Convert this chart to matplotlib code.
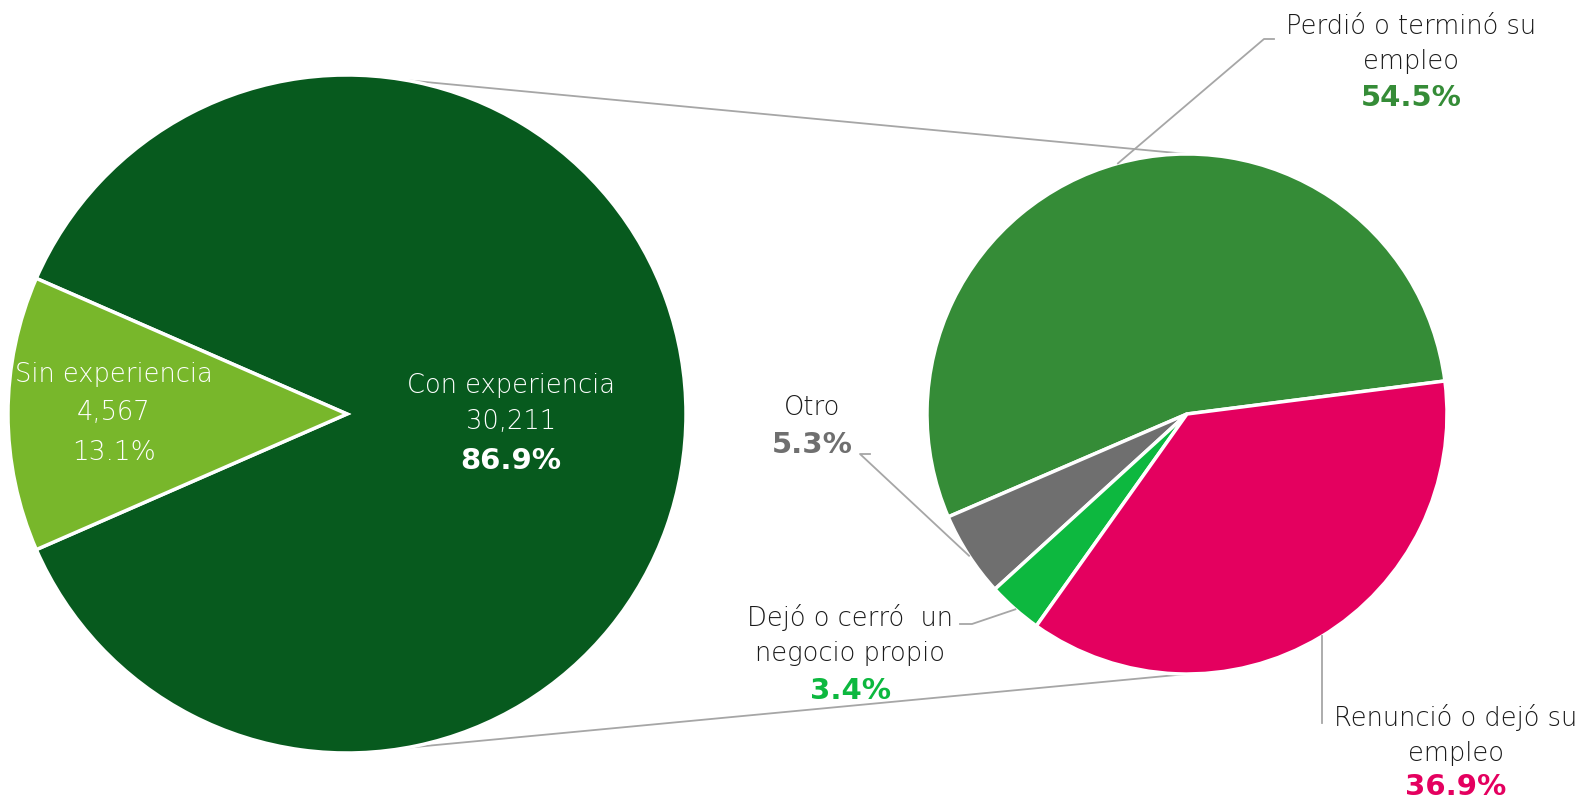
import numpy as np
import matplotlib.pyplot as plt

# datos
main_labels = ['Con experiencia', 'Sin experiencia']
main_counts = [30211, 4567]
main_pct = [86.9, 13.1]
main_colors = ['#075A1E', '#78B72B']

sub_labels = ['Perdió o terminó su\nempleo', 'Otro', 'Dejó o cerró  un\nnegocio propio', 'Renunció o dejó su\nempleo']
sub_pct = [54.5, 5.3, 3.4, 36.9]
sub_colors = ['#358C37', '#6F6F6F', '#0DB83F', '#E4005F']

W, H = 1588, 804
fig = plt.figure(figsize=(W / 100, H / 100), dpi=100)
ax = fig.add_axes([0, 0, 1, 1])
ax.set_xlim(0, W)
ax.set_ylim(0, H)
ax.set_aspect('equal')
ax.axis('off')

lc, lr = (347, 389), 339   # pie grande
rc, rr = (1187, 389), 260  # pie chico

sin_frac = main_pct[1] / 100
start_main = 180 + sin_frac * 180 - 360  # "Sin experiencia" centrado a la izquierda
ax.pie(main_pct, colors=main_colors, startangle=start_main, counterclock=True,
       center=lc, radius=lr, wedgeprops={'edgecolor': 'white', 'linewidth': 2.5})

start_sub = 7.3
wedges, _ = ax.pie(sub_pct, colors=sub_colors, startangle=start_sub, counterclock=True,
                   center=rc, radius=rr, wedgeprops={'edgecolor': 'white', 'linewidth': 2.5})
ax.set_xlim(0, W)
ax.set_ylim(0, H)

# lineas que unen los dos pies
def on_circle(c, r, ang):
    a = np.deg2rad(ang)
    return c[0] + r * np.cos(a), c[1] + r * np.sin(a)

for a1, a2 in [(80, 90), (-80, -90)]:
    p1 = on_circle(lc, lr, a1)
    p2 = on_circle(rc, rr, a2)
    ax.plot([p1[0], p2[0]], [p1[1], p2[1]], color='#A6A6A6', lw=1.3, zorder=0)

lab_font = dict(family='DejaVu Sans', weight='light')
pct_font = dict(family='DejaVu Sans', weight='heavy')
dark = '#1A1A1A'
fs = 18.5
fp = 21

def Y(y):
    return H - y

# etiquetas del pie grande
ax.text(511, Y(386), main_labels[0], color='white', fontsize=fs, ha='center', va='center', **lab_font)
ax.text(511, Y(422), '{:,}'.format(main_counts[0]), color='white', fontsize=fs, ha='center', va='center', **lab_font)
ax.text(511, Y(461), '{:.1f}%'.format(main_pct[0]), color='white', fontsize=fp, ha='center', va='center', **pct_font)
ax.text(114, Y(375), main_labels[1], color='white', fontsize=fs, ha='center', va='center', **lab_font)
ax.text(114, Y(413), '{:,}'.format(main_counts[1]), color='white', fontsize=fs, ha='center', va='center', **lab_font)
ax.text(114, Y(453), '{:.1f}%'.format(main_pct[1]), color='white', fontsize=19, ha='center', va='center', **lab_font)

# etiquetas del pie chico: (x texto, y centro etiqueta, y porcentaje)
mids = []
ang = start_sub
for p in sub_pct:
    span = p / 100 * 360
    mids.append(ang + span / 2)
    ang += span

label_pos = [(1411, 44, 98), (812, 408, 445), (850, 635, 691), (1456, 735, 787)]
elbows = [[(1264, 40), (1274, 40)], [(860, 455), (870, 455)], [(972, 625), (960, 625)], []]

for i in range(4):
    x, yc, yp = label_pos[i]
    ax.text(x, Y(yc), sub_labels[i], color=dark, fontsize=fs, ha='center', va='center',
            linespacing=1.5, **lab_font)
    ax.text(x, Y(yp), '{:.1f}%'.format(sub_pct[i]), color=sub_colors[i], fontsize=fp,
            ha='center', va='center', **pct_font)
    p0 = on_circle(rc, rr, mids[i])
    xs = [p0[0]] + [e[0] for e in elbows[i]]
    ys = [p0[1]] + [Y(e[1]) for e in elbows[i]]
    if i == 3:
        xs = [p0[0], p0[0]]
        ys = [p0[1], Y(724)]
    ax.plot(xs, ys, color='#A6A6A6', lw=1.3)

fig.savefig('out.png', dpi=100)
